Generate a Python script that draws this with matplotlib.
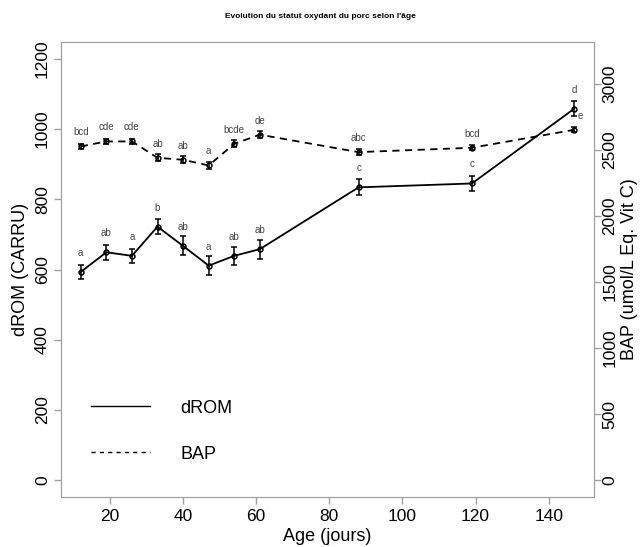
import matplotlib
matplotlib.use("Agg")
import matplotlib.pyplot as plt
from matplotlib.lines import Line2D

plt.rcParams["font.family"] = ["Liberation Sans", "DejaVu Sans"]

# données
age = [12, 19, 26, 33, 40, 47, 54, 61, 88, 119, 147]
drom = [593, 649, 639, 722, 667, 611, 639, 658, 834, 845, 1058]
drom_se = [21, 22, 20, 22, 27, 27, 26, 27, 23, 21, 21]
drom_grp = ["a", "ab", "a", "b", "ab", "a", "ab", "ab", "c", "c", "d"]
bap = [2527, 2565, 2565, 2441, 2426, 2383, 2547, 2616, 2484, 2517, 2653]
bap_se = [22, 20, 20, 28, 25, 25, 25, 25, 22, 20, 20]
bap_grp = ["bcd", "cde", "cde", "ab", "ab", "a", "bcde", "de", "abc", "bcd", "e"]

GREY = "#a0a0a0"
LET = "#444444"

fig = plt.figure(figsize=(6.41, 5.47), dpi=100, facecolor="white")
ax = fig.add_axes((61 / 641, 50 / 547, 533 / 641, 455 / 547))
ax2 = ax.twinx()

ax.errorbar(age, drom, yerr=drom_se, color="black", lw=1.3, ls="-",
            marker="o", ms=3.5, mfc="none", mew=1.1, capsize=2.5, elinewidth=1.1)
ax2.errorbar(age, bap, yerr=bap_se, color="black", lw=1.3, ls=(0, (4, 3)),
             marker="o", ms=3.5, mfc="none", mew=1.1, capsize=2.5, elinewidth=1.1)

for x, y, g in zip(age, drom, drom_grp):
    ax.annotate(g, (x, y), xytext=(0, 19), textcoords="offset pixels",
                ha="center", va="center", fontsize=7, color=LET)
for i, (x, y, g) in enumerate(zip(age, bap, bap_grp)):
    dx = 6 if i == len(age) - 1 else 0
    ax2.annotate(g, (x, y), xytext=(dx, 14), textcoords="offset pixels",
                 ha="center", va="center", fontsize=7, color=LET)

ax.set_xlim(6.6, 152.4)
ax.set_ylim(-48, 1248)
ax2.set_ylim(-128, 3318)
ax.set_xticks([20, 40, 60, 80, 100, 120, 140])
ax.set_yticks([0, 200, 400, 600, 800, 1000, 1200])
ax2.set_yticks([0, 500, 1000, 1500, 2000, 2500, 3000])

for a in (ax, ax2):
    for s in a.spines.values():
        s.set_color(GREY)
    a.tick_params(colors=GREY, labelcolor="black", length=5, width=1, labelsize=12.5)
ax.tick_params(axis="y", labelrotation=90, pad=3)
ax2.tick_params(axis="y", labelrotation=90, pad=1)
for t in ax.get_yticklabels() + ax2.get_yticklabels():
    t.set_va("center")

ax.set_xlabel("Age (jours)", fontsize=13, labelpad=3)
ax.set_ylabel("dROM (CARRU)", fontsize=13, labelpad=4)
ax2.set_ylabel("BAP (umol/L Eq. Vit C)", fontsize=13, rotation=90, labelpad=3)

fig.text(0.5, 1 - 17 / 547, "Evolution du statut oxydant du porc selon l'âge",
         ha="center", va="center", fontsize=6, fontweight="bold")

handles = [Line2D([], [], color="black", lw=1),
           Line2D([], [], color="black", lw=1, ls=(0, (3, 3)))]
ax.legend(handles, ["dROM", "BAP"], loc="lower left", bbox_to_anchor=(0.025, 0.04),
          frameon=False, fontsize=13, handlelength=3.3, handletextpad=1.66,
          labelspacing=1.6)

fig.savefig("out.png", dpi=100, facecolor="white")
